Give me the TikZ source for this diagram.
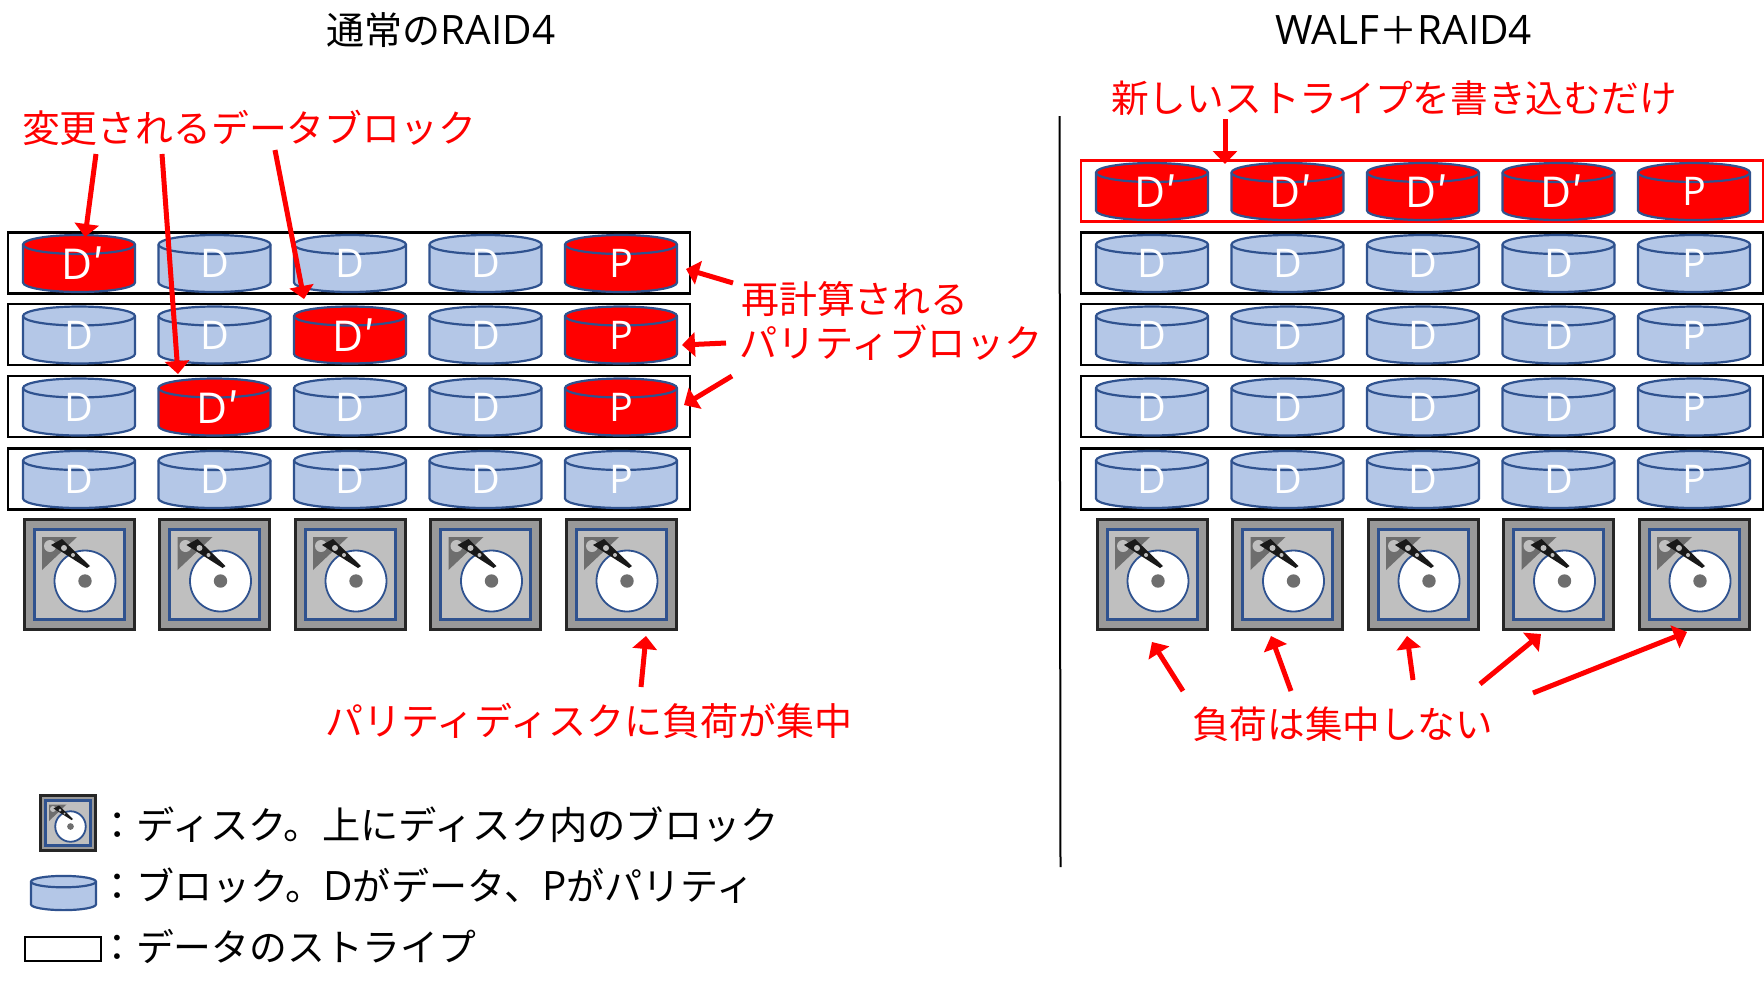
\documentclass[tikz,border=0pt]{standalone}
\usepackage{fontspec}
\setmainfont{Noto Sans CJK JP}
\newfontfamily\latinfont{Open Sans}
\usetikzlibrary{arrows.meta}

\definecolor{blockblue}{HTML}{B4C7E7}
\definecolor{blockline}{HTML}{2F528F}
\definecolor{diskgray}{HTML}{999999}
\definecolor{diskinner}{HTML}{BFBFBF}
\definecolor{diskdark}{HTML}{6E6E6E}

\newcommand{\fs}[1]{\fontsize{#1pt}{#1pt}\selectfont}
\newcommand{\lat}[1]{{\latinfont\fontsize{40.5pt}{41pt}\selectfont #1}}
\newcommand{\dprime}{{\fs{42.5}\hspace{7pt}D{\rmfamily ′}}}

\tikzset{
    disk/.pic={
        \path[draw=black!85,line width=3pt,fill=diskgray] (-55,-55) rectangle (55,55);
        \path[draw=blockline,line width=3pt,fill=diskinner] (-45,-45) rectangle (45,45);
        \path[fill=diskdark] (-37,-37) -- (-2,-37) -- (-37,-4) -- cycle;
        \path[fill=diskinner] (-29,-28) circle (6);
        \path[draw=blockline,line width=1.8pt,fill=white] (6,7) circle (30.5);
        \path[fill=diskdark] (6,7) circle (6.7);
        \path[fill=black!90] (-28,-29) -- (-17,-35) -- (11,-8) -- (8,-6) -- cycle;
        \path[fill=diskinner] (-15,-26) circle (3);
        \path[fill=diskinner] (-6,-19) circle (2);
    },
    pics/block/.style 2 args={code={
        \path[draw=blockline,line width=2.2pt,fill=#1]
            (-56,-19) arc (180:360:56 and 9.5) -- (56,19) arc (0:180:56 and 9.5) -- cycle;
        \path[draw=blockline,line width=2.2pt] (-56,-19) arc (180:0:56 and 9.5);
        \node[text=white,font=\latinfont\fs{39.5}] (-text) at (0,0) {#2};
    }}
}

\begin{document}
\begin{tikzpicture}[x=1pt,y=-1pt]
    \tikzstyle{every node}=[font=\fs{37.5},inner sep=0pt]
    \tikzstyle{stripe}=[draw=black,line width=2.5pt,minimum height=61pt]
    \tikzstyle{new stripe}=[stripe,draw=red]
    \tikzstyle{note}=[text=red,anchor=west]
    \tikzstyle{legend}=[anchor=west]
    \tikzstyle{red arrow}=[draw=red,line width=5pt,-{Triangle[length=13pt,width=24pt]}]

    \useasboundingbox (0,0) rectangle (1764,997);

    % Titles
    \node[font=\fs{38}] (title-l) at (441,30) {通常の\lat{RAID4}};
    \node[font=\fs{38}] (title-r) at (1404,30) {\lat{WALF}＋\lat{RAID4}};

    % Divider between the two halves
    \coordinate (div-t) at (1059.5,116);
    \coordinate (div-b) at (1060.5,867);
    \draw[line width=2pt] (div-t) -- (div-b);

    % Left side: stripes and blocks
    \foreach \row/\y/\changed in {1/263/1,2/334.5/3,3/406.5/2,4/479/0} {
        \node[stripe,minimum width=682pt] (SL-\row) at (349,\y) {};
        \foreach \col/\x in {1/79,2/214.5,3/350,4/485.5} {
            \ifnum\col=\changed
                \pic (L-\row-\col) at (\x,\y+0.5) {block={red}{\dprime}};
            \else
                \pic (L-\row-\col) at (\x,\y+0.5) {block={blockblue}{D}};
            \fi
        }
        \ifnum\changed>0
            \pic (L-\row-5) at (621,\y+0.5) {block={red}{P}};
        \else
            \pic (L-\row-5) at (621,\y+0.5) {block={blockblue}{P}};
        \fi
    }

    % Right side: old stripes
    \foreach \row/\y in {1/263,2/334.5,3/406.5,4/479} {
        \node[stripe,minimum width=682pt] (SR-\row) at (1422,\y) {};
        \foreach \col/\x in {1/1152,2/1287.5,3/1423,4/1558.5}
            \pic (R-\row-\col) at (\x,\y+0.5) {block={blockblue}{D}};
        \pic (R-\row-5) at (1694,\y+0.5) {block={blockblue}{P}};
    }

    % Right side: the new stripe
    \node[new stripe,minimum width=682pt] (SR-0) at (1422,191) {};
    \foreach \col/\x in {1/1152,2/1287.5,3/1423,4/1558.5}
        \pic (R-0-\col) at (\x,191.5) {block={red}{\dprime}};
    \pic (R-0-5) at (1694,191.5) {block={red}{P}};

    % Disks
    \foreach \col/\x in {1/79,2/214.5,3/350,4/485.5,5/621}
        \pic (DL-\col) at (\x,574) {disk};
    \foreach \col/\x in {1/1152,2/1287.5,3/1423,4/1558.5,5/1694}
        \pic (DR-\col) at (\x,574) {disk};

    % Red notes
    \node[note,font=\fs{37.8}] (n-data) at (22,128) {変更されるデータブロック};
    \node[note,font=\fs{37.9}] (n-calc) at (741,299) {再計算される};
    \node[note,font=\fs{38.2}] (n-par) at (739,343) {パリティブロック};
    \node[note,font=\fs{38}] (n-load) at (325,721) {パリティディスクに負荷が集中};
    \node[note,font=\fs{37.6}] (n-none) at (1192,724) {負荷は集中しない};
    \node[note,font=\fs{37.7}] (n-new) at (1111,98) {新しいストライプを書き込むだけ};

    % Red arrows
    \foreach \name/\sx/\sy/\ex/\ey in {a1/96/154/85/237,a2/162/154/178/374,a3/275/150/304/299,
        a4/733/283/686/269,a5/726/343/682/345,a6/732/376/684/405,a7/641/687/646/636,
        a8/1225/119/1225/164,a9/1183/691/1152/642,a10/1291/691/1271/636,a11/1413/680/1407/636,
        a12/1480/684/1541/634,a13/1533/693/1687/632} {
        \coordinate (\name-s) at (\sx,\sy);
        \coordinate (\name-e) at (\ex,\ey);
        \draw[red arrow] (\name-s) -- (\name-e);
    }

    % Legend
    \pic[scale=0.5] (leg-disk) at (67.5,823) {disk};
    \pic[xscale=0.58,yscale=0.6] (leg-block) at (63.5,893) {block={blockblue}{}};
    \node[stripe,minimum width=76pt,minimum height=24pt] (leg-stripe) at (63,949) {};
    \node[legend,font=\fs{38.3}] (t-disk) at (98,825) {：ディスク。上にディスク内のブロック};
    \node[legend,font=\fs{38.05}] (t-block) at (98,886) {：ブロック。\lat{D}がデータ、\lat{P}がパリティ};
    \node[legend,font=\fs{37.8}] (t-stripe) at (98,946) {：データのストライプ};
\end{tikzpicture}
\end{document}
